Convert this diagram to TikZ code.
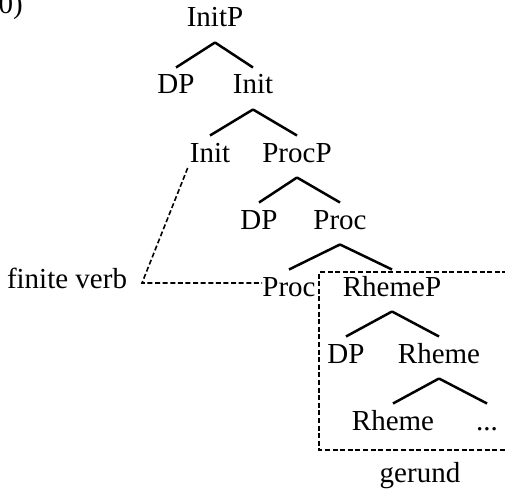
\documentclass[tikz,border=0pt]{standalone}
\usepackage{fontspec}
\setmainfont{Liberation Serif}
\begin{document}
\begin{tikzpicture}[x=1pt,y=-1pt,
  lab/.style={anchor=base,inner sep=0pt,font=\fontsize{29}{34}\selectfont},
  branch/.style={line width=2.5pt},
  mv/.style={line width=1.6pt,dash pattern=on 5pt off 2.6pt},
]
\useasboundingbox (0,0) rectangle (505,489);
\clip (0,0) rectangle (505,489);

% example number
\node[lab,anchor=base east] (num) at (23,14) {(10)};

% tree labels
\node[lab] (initp)  at (215,27)  {InitP};
\node[lab] (dp1)    at (176,94)  {DP};
\node[lab] (init1)  at (253,94)  {Init};
\node[lab] (init2)  at (210,162) {Init};
\node[lab] (procp)  at (297,162) {ProcP};
\node[lab] (dp2)    at (259,229) {DP};
\node[lab] (proc1)  at (340,229) {Proc};
\node[lab] (proc2)  at (289,296) {Proc};
\node[lab] (rhemep) at (392,296) {RhemeP};
\node[lab] (dp3)    at (346,363) {DP};
\node[lab] (rheme1) at (439,363) {Rheme};
\node[lab] (rheme2) at (393,430) {Rheme};
\node[lab] (dots)   at (487,430) {...};
\node[lab] (fv)     at (67,288)  {finite verb};
\node[lab] (ger)    at (420,482) {gerund};

% branches
\foreach \p/\c in {initp/dp1,initp/init1,init1/init2,init1/procp,
                   procp/dp2,procp/proc1,proc1/proc2,proc1/rhemep,
                   rhemep/dp3,rhemep/rheme1,rheme1/rheme2,rheme1/dots}
  \draw[branch] ([yshift=-15.5pt]\p.base) -- ([yshift=26.5pt]\c.base);

% head movement of the finite verb
\coordinate (bend) at (142,283);
\draw[mv] ([xshift=-2pt,yshift=-6pt]init2.base west) -- (bend) -- (proc2.west |- bend);

% gerund domain
\draw[mv] (515,272) -- (319,272) -- (319,450) -- (515,450);
\end{tikzpicture}
\end{document}
